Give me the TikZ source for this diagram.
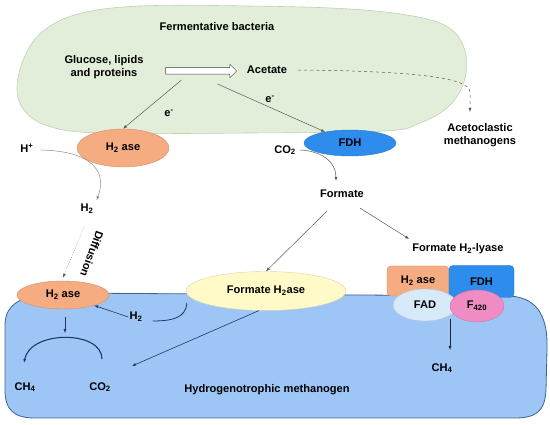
\documentclass[tikz,border=0pt]{standalone}
\usepackage{fontspec}
\setmainfont{Liberation Sans}
\usetikzlibrary{shapes.geometric,shapes.arrows,arrows.meta}

\definecolor{cellgreen}{RGB}{226,238,217}
\definecolor{cellgreenline}{RGB}{190,212,174}
\definecolor{cellblue}{RGB}{157,198,246}
\definecolor{cellblueline}{RGB}{62,98,148}
\definecolor{h2asecol}{RGB}{244,172,128}
\definecolor{fdhblue}{RGB}{45,140,236}
\definecolor{paleyellow}{RGB}{255,250,200}
\definecolor{fadblue}{RGB}{214,234,250}
\definecolor{fpink}{RGB}{240,140,196}
\definecolor{navy}{RGB}{31,56,100}

\begin{document}
\begin{tikzpicture}[x=1pt, y=-1pt,
  every node/.style={font=\bfseries\fontsize{11.1}{13.5}\selectfont, align=center, inner sep=1pt},
  enz/.style={ellipse, draw=#1!85!black, fill=#1, inner sep=0pt},
  enzbox/.style={rectangle, rounded corners=4pt, draw=#1!85!black, fill=#1, inner sep=0pt},
  garrow/.style={draw=black!65, line width=0.5pt, -{Latex[length=4pt,width=3pt]}},
  narrow/.style={draw=navy, line width=0.6pt, -{Latex[length=4pt,width=3pt]}}]

\useasboundingbox (0,0) rectangle (550,425);

% --- cells ---
\draw[fill=cellgreen, draw=cellgreenline, line width=0.6pt] plot[smooth cycle, tension=0.6] coordinates
  {(17,88) (24,58) (42,32) (78,14) (140,6) (250,6) (350,9) (418,17) (452,30) (466,55)
   (463,85) (447,108) (420,123) (385,131) (250,133) (100,133) (48,126) (24,110)};
\draw[fill=cellblue, draw=cellblueline, line width=0.8pt]
  (60,293) -- (510,296) .. controls (540,298) and (548,320) .. (547,350) -- (546,390)
  .. controls (545,412) and (535,418) .. (515,418) -- (35,418)
  .. controls (12,418) and (5,408) .. (5,390) -- (5,325)
  .. controls (5,305) and (20,294) .. (60,293) -- cycle;

% --- Fermentative bacteria ---
\node (fbac) at (217,27) {Fermentative bacteria};
\node (gluc) at (104,67) {Glucose, lipids\\and proteins};
\node[single arrow, draw=black!75, fill=white, line width=0.5pt, inner xsep=0pt, inner ysep=3pt,
  single arrow head extend=3.5pt, minimum height=71pt] (conv) at (199.5,71) {};
\node (acet) at (267,70) {Acetate};
\node (aceto) at (480,135) {Acetoclastic\\methanogens};
\coordinate (acetoIn) at (470,112);
\node[enz=h2asecol, minimum width=92, minimum height=38] (h2aseA) at (123,148) {H\textsubscript{2} ase};
\node[enz=fdhblue, minimum width=92, minimum height=26] (fdhA) at (350,143) {FDH};
\node (eL) at (169,113) {e\textsuperscript{-}};
\node (eR) at (270,99) {e\textsuperscript{-}};
\node (hplus) at (27,148) {H\textsuperscript{+}};
\node (h2A) at (87,209) {H\textsubscript{2}};
\node[rotate=-110, inner sep=0pt] (diff) at (92,254) {Diffusion};
\node (co2A) at (285,150) {CO\textsubscript{2}};
\node (formate) at (342,194) {Formate};
\node (lyase) at (458,249) {Formate H\textsubscript{2}-lyase};

% --- Hydrogenotrophic methanogen ---
\node[enz=h2asecol, minimum width=92, minimum height=28] (h2aseB) at (63,295) {H\textsubscript{2} ase};
\node[enz=paleyellow, minimum width=160, minimum height=39] (fh2ase) at (266,291) {Formate H\textsubscript{2}ase};
\node (h2B) at (136,317) {H\textsubscript{2}};
\node (ch4B) at (25,387) {CH\textsubscript{4}};
\node (co2B) at (100,387) {CO\textsubscript{2}};
\node (hmeth) at (267,390) {Hydrogenotrophic methanogen};
\node[enzbox=h2asecol, minimum width=62, minimum height=30] (h2aseC) at (418,281) {H\textsubscript{2} ase};
\node[enzbox=fdhblue, minimum width=65, minimum height=32] (fdhC) at (481.5,281.5) {FDH};
\node[enz=fadblue, minimum width=64, minimum height=32] (fad) at (425,305) {FAD};
\node[enz=fpink, minimum width=54, minimum height=32] (f420) at (477,306) {F\textsubscript{420}};
\node (ch4C) at (442,368) {CH\textsubscript{4}};

% --- connectors ---
\draw[garrow] ([shift={(-18,9)}]conv.center) -- (h2aseA.north);
\draw[garrow] ([shift={(18,13)}]conv.center) -- (fdhA);
\draw[garrow, dashed] ([shift={(10,0)}]acet.east) .. controls (400,71) and (470,76) .. (470,92) -- (acetoIn);
\draw[garrow, draw=black!45] ([shift={(6,2)}]hplus.east) .. controls (90,151) and (108,170) .. ([shift={(2,-3)}]h2A.north east);
\draw[garrow, dotted] ([shift={(-3,18)}]h2A.center) -- ([shift={(0,-3)}]h2aseB.north);
\draw[garrow] ([shift={(3,0)}]co2A.east) .. controls (322,151) and (336,162) .. ([shift={(-6,-8)}]formate.north);
\draw[garrow] ([shift={(-15,12)}]formate.south) -- (fh2ase.north);
\draw[garrow] ([shift={(18,9)}]formate.south) -- ([shift={(-2,-10)}]lyase.west);

\draw[narrow] (h2B.west) -- (h2aseB);
\draw[draw=navy, line width=0.8pt] ([shift={(1,12)}]fh2ase.west) .. controls (186,318) and (172,321) .. ([shift={(9,4)}]h2B.east);
\draw[narrow] (fh2ase.250) -- ([shift={(32,-21)}]co2B.center);
\draw[narrow] ([shift={(2,8)}]h2aseB.south) -- ([shift={(2,24)}]h2aseB.south);
\draw[narrow, line width=1.1pt] ([shift={(2,-28)}]co2B.center) .. controls (102,330) and (30,330) .. ([shift={(-1,-24)}]ch4B.center);
\draw[garrow, draw=black!85] ([shift={(25,14)}]fad.center) -- ([shift={(8,-18)}]ch4C.center);

\end{tikzpicture}
\end{document}
